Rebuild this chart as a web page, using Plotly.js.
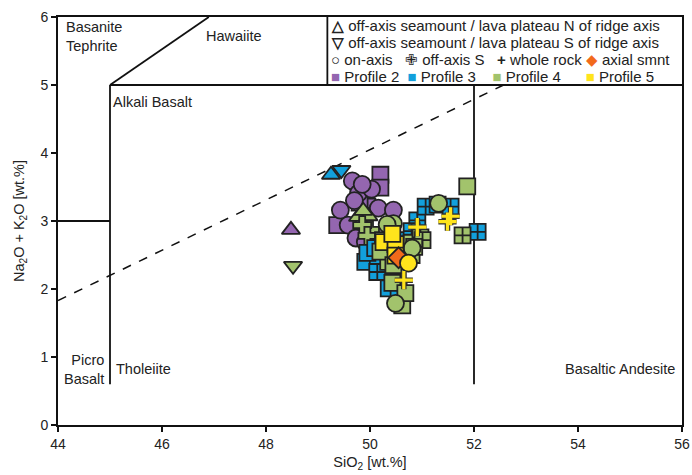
<!DOCTYPE html>
<html><head><meta charset="utf-8">
<script src="https://cdn.plot.ly/plotly-3.0.1.min.js"></script>
<style>html,body{margin:0;padding:0;background:#fff}#c{width:692px;height:475px}</style>
</head><body><div id="c"></div>
<script>
// ---- data (SiO2, Na2O+K2O wt.%) ----
const p2SqX = [50.20, 50.20, 49.37, 49.95, 49.80];
const p2SqY = [3.68, 3.49, 2.94, 3.21, 3.27];
const p2CircX = [49.66, 49.78, 50.03, 49.85, 49.43, 50.16, 50.45, 49.58, 49.73, 49.91, 49.70];
const p2CircY = [3.59, 3.41, 3.47, 3.54, 3.16, 3.19, 3.16, 2.94, 2.75, 2.69, 3.30];
const p2TriUpX = [48.48];
const p2TriUpY = [2.87];

const p3SqX = [49.91, 50.15, 49.95, 50.36, 50.55, 50.10];
const p3SqY = [2.40, 2.38, 2.53, 2.01, 1.99, 2.60];
const p3GridX = [50.14, 50.91, 51.07, 51.30, 51.55, 52.07, 50.68, 50.80, 50.37];
const p3GridY = [2.25, 3.01, 3.21, 3.24, 3.21, 2.84, 2.72, 2.85, 2.69];
const p3TriUpX = [49.25];
const p3TriUpY = [3.68];
const p3TriDnX = [49.45];
const p3TriDnY = [3.75];

const p4SqX = [51.87, 50.62, 50.35, 50.53, 50.43, 50.68, 50.25, 50.80, 50.80, 50.20, 50.45];
const p4SqY = [3.51, 1.76, 2.40, 2.24, 2.09, 1.94, 2.72, 2.68, 2.50, 2.55, 2.35];
const p4GridX = [50.97, 51.78, 51.01, 50.85];
const p4GridY = [2.76, 2.79, 2.72, 2.62];
const p4CircX = [51.32, 50.81, 50.49, 50.45, 50.33];
const p4CircY = [3.26, 2.60, 1.79, 2.96, 2.95];
const p4CrossX = [50.00, 49.85, 49.95];
const p4CrossY = [2.87, 2.94, 2.78];
const p4TriUpX = [49.77, 49.97, 49.87];
const p4TriUpY = [3.06, 3.07, 3.15];
const p4TriDnX = [48.52];
const p4TriDnY = [2.34];

const p5SqX = [50.26, 50.49, 50.49, 50.43];
const p5SqY = [2.69, 2.66, 2.49, 2.81];
const p5CircX = [50.74];
const p5CircY = [2.38];
const wrX = [50.91, 51.55, 51.49, 50.65];
const wrY = [2.91, 3.07, 2.99, 2.13];
const smntX = [50.55];
const smntY = [2.46];

// axes ticks
const xTicks = [44, 46, 48, 50, 52, 54, 56];
const yTicks = [0, 1, 2, 3, 4, 5, 6];

const C = {p2:'#9466b0', p3:'#12a0dc', p4:'#a2c36c', p5:'#ffe41c', or:'#f26a1b'};
const OUT = {color:'#222', width:1.8};

function tr(x, y, sym, col, size, extra){
  const m = Object.assign({symbol:sym, color:col, size:size||15, line:OUT}, extra||{});
  return {x:x, y:y, type:'scatter', mode:'markers', marker:m, showlegend:false, hoverinfo:'x+y'};
}

const data = [
  tr(p2SqX, p2SqY, 'square', C.p2, 16),
  tr(p2CircX, p2CircY, 'circle', C.p2, 17),
  tr(p4TriUpX, p4TriUpY, 'triangle-up', C.p4, 16),
  tr(p4CrossX, p4CrossY, 'cross', C.p4, 15),
  tr(p3SqX, p3SqY, 'square', C.p3, 16),
  tr(p3GridX, p3GridY, 'square-cross', C.p3, 16),
  tr(p4SqX, p4SqY, 'square', C.p4, 16),
  tr(p4GridX, p4GridY, 'square-cross', C.p4, 16),
  tr(p4CircX, p4CircY, 'circle', C.p4, 17),
  tr(p5SqX, p5SqY, 'square', C.p5, 16),
  tr(smntX, smntY, 'diamond', C.or, 16),
  tr(p5CircX, p5CircY, 'circle', C.p5, 17),
  tr(wrX, wrY, 'cross-thin', '#333', 13, {line:{color:'#333', width:5.5}}),
  tr(wrX, wrY, 'cross-thin', C.p5, 13, {line:{color:C.p5, width:3.2}}),
  tr(p2TriUpX, p2TriUpY, 'triangle-up', C.p2, 16),
  tr(p3TriUpX, p3TriUpY, 'triangle-up', C.p3, 16),
  tr(p3TriDnX, p3TriDnY, 'triangle-down', C.p3, 16),
  tr(p4TriDnX, p4TriDnY, 'triangle-down', C.p4, 16)
];

const L = {color:'#111', width:1.8};
function seg(x0,y0,x1,y1,dash){return {type:'line', xref:'x', yref:'y', x0:x0, y0:y0, x1:x1, y1:y1, line:Object.assign({}, L, dash?{dash:'dash', width:1.5}:{}), layer:'below'};}
const shapes = [
  seg(44,3,45,3),
  seg(45,0.6,45,5),
  seg(45,5,56,5),
  seg(45,5,46.9,6),
  seg(52,0.6,52,5),
  seg(44,1.83,52.57,5,true),
  seg(49.18,5,49.18,6)
];

const FAM = 'Liberation Sans, Arial, sans-serif';
const F = {family:FAM, size:14.5, color:'#222'};
const FL = {family:FAM, size:15, color:'#222'};
const FT = {family:FAM, size:14, color:'#222'};
function lab(x,y,t,xa,ya,al,f){return {x:x, y:y, xref:'x', yref:'y', text:t, showarrow:false, xanchor:xa||'left', yanchor:ya||'middle', align:al||'left', font:f||F};}
const sp = (c,s)=>'<span style="color:'+c+'">'+s+'</span>';
const annotations = [
  lab(44.12, 5.71, 'Basanite<br>Tephrite', 'left', 'middle'),
  lab(46.8, 5.72, 'Hawaiite', 'left', 'middle'),
  lab(45.02, 4.75, 'Alkali Basalt', 'left', 'middle'),
  lab(44.93, 0.82, 'Picro<br>Basalt', 'right', 'middle', 'right'),
  lab(45.08, 0.82, 'Tholeiite', 'left', 'middle'),
  lab(55.9, 0.82, 'Basaltic Andesite', 'right', 'middle'),
  lab(49.22, 5.87, '<b>△</b> off-axis seamount / lava plateau N of ridge axis', 'left','middle','left',FL),
  lab(49.22, 5.62, '<b>▽</b> off-axis seamount / lava plateau S of ridge axis', 'left','middle','left',FL),
  lab(49.22, 5.38, '<b>○</b> on-axis   ✙ off-axis S   <b>+</b> whole rock '+sp(C.or,'◆')+' axial smnt', 'left','middle','left',FL),
  lab(49.22, 5.13, sp(C.p2,'■')+' Profile 2  '+sp(C.p3,'■')+' Profile 3    '+sp(C.p4,'■')+' Profile 4      '+sp(C.p5,'■')+' Profile 5', 'left','middle','left',FL)
];

const ax = {showgrid:false, zeroline:false, showline:true, linecolor:'#111', linewidth:2, mirror:true,
  ticks:'outside', ticklen:5, tickwidth:1.5, tickcolor:'#111', tickfont:FT};
const layout = {
  width:692, height:475, margin:{l:58, r:10, t:17, b:50},
  paper_bgcolor:'#fff', plot_bgcolor:'#fff',
  xaxis:Object.assign({}, ax, {range:[44,56], tickvals:xTicks, title:{text:'SiO<sub>2</sub> [wt.%]', font:F, standoff:6}}),
  yaxis:Object.assign({}, ax, {range:[0,6], tickvals:yTicks, title:{text:'Na<sub>2</sub>O + K<sub>2</sub>O [wt.%]', font:F, standoff:12}}),
  shapes:shapes, annotations:annotations, showlegend:false
};
Plotly.newPlot('c', data, layout, {displayModeBar:false, staticPlot:true});
</script></body></html>
